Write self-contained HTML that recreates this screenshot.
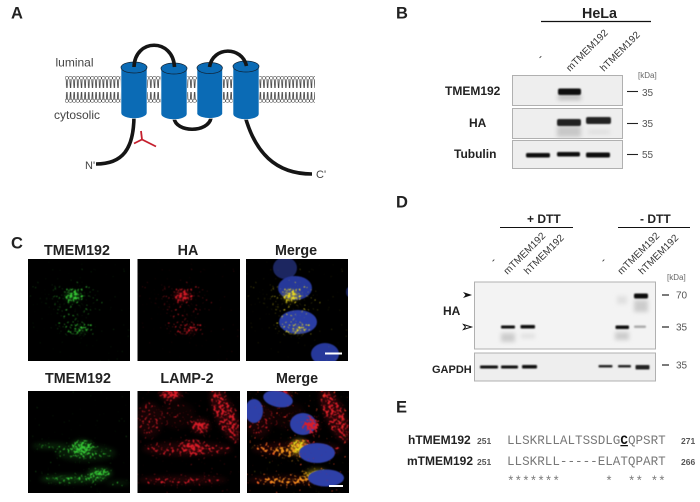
<!DOCTYPE html>
<html><head><meta charset="utf-8">
<style>
html,body{margin:0;padding:0;background:#fff;width:700px;height:502px;overflow:hidden}
svg{display:block}
text{font-family:"Liberation Sans",sans-serif}
.pl{font-weight:bold;font-size:16.5px;fill:#222}
.b12{font-weight:bold;font-size:12px;fill:#222}
.t{font-weight:bold;font-size:14.3px;fill:#222;text-anchor:middle}
.r{font-size:10px;fill:#333}
.a{font-size:12px;fill:#444}
.k{font-size:8px;fill:#666}
.n{font-size:10px;fill:#555}
.seq{font-family:"Liberation Mono",monospace;font-size:12.6px;fill:#777}
.num{font-size:8.5px;font-weight:bold;fill:#555}
.blot{fill:#eeeeee;stroke:#b0b0b0;stroke-width:1}
</style></head><body>
<svg xmlns="http://www.w3.org/2000/svg" width="700" height="502" viewBox="0 0 700 502">
<defs>
<pattern id="mem" x="65" y="75" width="3.65" height="30" patternUnits="userSpaceOnUse">
<path d="M1.2 5L1.7 13M2.5 5L2.1 13M1.2 25L1.7 17M2.5 25L2.1 17" stroke="#444" stroke-width=".8" fill="none"/>
<circle cx="1.82" cy="3" r="1.7" fill="#fff" stroke="#333" stroke-width=".5"/>
<circle cx="1.82" cy="25.8" r="1.7" fill="#fff" stroke="#333" stroke-width=".5"/>
</pattern>
<filter id="b1" x="-30%" y="-100%" width="160%" height="300%"><feGaussianBlur stdDeviation="0.9"/></filter>
<filter id="b3" x="-30%" y="-100%" width="160%" height="300%"><feGaussianBlur stdDeviation="2.2"/></filter>
<filter id="s" x="-5%" y="-5%" width="110%" height="110%"><feGaussianBlur stdDeviation="0.45"/></filter>
<clipPath id="cT"><rect x="0" y="259" width="102" height="102"/></clipPath>
<clipPath id="cB"><rect x="0" y="391" width="102" height="102"/></clipPath>

<filter id="fG" filterUnits="userSpaceOnUse" x="-10" y="240" width="130" height="270" color-interpolation-filters="sRGB">
<feTurbulence type="fractalNoise" baseFrequency="0.45" numOctaves="2" seed="7" result="n"/>
<feColorMatrix in="n" values="0 0 0 0 1 0 0 0 0 1 0 0 0 0 1 1 0 0 0 0" result="na"/>
<feGaussianBlur in="SourceAlpha" stdDeviation="3" result="sa"/>
<feComposite in="na" in2="sa" operator="arithmetic" k1="0" k2="1" k3="0.36" k4="0" result="sum"/>
<feColorMatrix in="sum" values="0 0 0 0 1 0 0 0 0 1 0 0 0 0 1 0 0 0 9 -7" result="th"/>
<feFlood flood-color="#35c935"/><feComposite in2="th" operator="in"/><feGaussianBlur stdDeviation="0.4"/>
</filter>
<filter id="fR" filterUnits="userSpaceOnUse" x="-10" y="240" width="130" height="270" color-interpolation-filters="sRGB">
<feTurbulence type="fractalNoise" baseFrequency="0.45" numOctaves="2" seed="7" result="n"/>
<feColorMatrix in="n" values="0 0 0 0 1 0 0 0 0 1 0 0 0 0 1 1 0 0 0 0" result="na"/>
<feGaussianBlur in="SourceAlpha" stdDeviation="3" result="sa"/>
<feComposite in="na" in2="sa" operator="arithmetic" k1="0" k2="1" k3="0.36" k4="0" result="sum"/>
<feColorMatrix in="sum" values="0 0 0 0 1 0 0 0 0 1 0 0 0 0 1 0 0 0 9 -7" result="th"/>
<feFlood flood-color="#d81a26"/><feComposite in2="th" operator="in"/><feGaussianBlur stdDeviation="0.4"/>
</filter>
<filter id="fY" filterUnits="userSpaceOnUse" x="-10" y="240" width="130" height="270" color-interpolation-filters="sRGB">
<feTurbulence type="fractalNoise" baseFrequency="0.45" numOctaves="2" seed="7" result="n"/>
<feColorMatrix in="n" values="0 0 0 0 1 0 0 0 0 1 0 0 0 0 1 1 0 0 0 0" result="na"/>
<feGaussianBlur in="SourceAlpha" stdDeviation="3" result="sa"/>
<feComposite in="na" in2="sa" operator="arithmetic" k1="0" k2="1" k3="0.36" k4="0" result="sum"/>
<feColorMatrix in="sum" values="0 0 0 0 1 0 0 0 0 1 0 0 0 0 1 0 0 0 9 -7" result="th"/>
<feFlood flood-color="#ecdc1c"/><feComposite in2="th" operator="in"/><feGaussianBlur stdDeviation="0.4"/>
</filter>
<filter id="fO" filterUnits="userSpaceOnUse" x="-10" y="240" width="130" height="270" color-interpolation-filters="sRGB">
<feTurbulence type="fractalNoise" baseFrequency="0.38" numOctaves="2" seed="7" result="n"/>
<feColorMatrix in="n" values="0 0 0 0 1 0 0 0 0 1 0 0 0 0 1 1 0 0 0 0" result="na"/>
<feGaussianBlur in="SourceAlpha" stdDeviation="3" result="sa"/>
<feComposite in="na" in2="sa" operator="arithmetic" k1="0" k2="1" k3="0.42" k4="0" result="sum"/>
<feColorMatrix in="sum" values="0 0 0 0 1 0 0 0 0 1 0 0 0 0 1 0 0 0 9 -6.7" result="th"/>
<feFlood flood-color="#e99a1a"/><feComposite in2="th" operator="in"/><feGaussianBlur stdDeviation="0.4"/>
</filter>
<filter id="fD" filterUnits="userSpaceOnUse" x="-10" y="240" width="130" height="270" color-interpolation-filters="sRGB">
<feTurbulence type="fractalNoise" baseFrequency="0.38" numOctaves="2" seed="7" result="n"/>
<feColorMatrix in="n" values="0 0 0 0 1 0 0 0 0 1 0 0 0 0 1 1 0 0 0 0" result="na"/>
<feGaussianBlur in="SourceAlpha" stdDeviation="3" result="sa"/>
<feComposite in="na" in2="sa" operator="arithmetic" k1="0" k2="1" k3="0.42" k4="0" result="sum"/>
<feColorMatrix in="sum" values="0 0 0 0 1 0 0 0 0 1 0 0 0 0 1 0 0 0 9 -6.7" result="th"/>
<feFlood flood-color="#dc1c28"/><feComposite in2="th" operator="in"/><feGaussianBlur stdDeviation="0.4"/>
</filter>
<filter id="sG" filterUnits="userSpaceOnUse" x="-10" y="240" width="130" height="270" color-interpolation-filters="sRGB">
<feGaussianBlur in="SourceAlpha" stdDeviation="2.5" result="a"/>
<feComponentTransfer in="a" result="a2"><feFuncA type="linear" slope=".35"/></feComponentTransfer>
<feFlood flood-color="#2ea82e"/><feComposite in2="a2" operator="in"/>
</filter>
<filter id="sR" filterUnits="userSpaceOnUse" x="-10" y="240" width="130" height="270" color-interpolation-filters="sRGB">
<feGaussianBlur in="SourceAlpha" stdDeviation="2.5" result="a"/>
<feComponentTransfer in="a" result="a2"><feFuncA type="linear" slope=".32"/></feComponentTransfer>
<feFlood flood-color="#c81a24"/><feComposite in2="a2" operator="in"/>
</filter>
<filter id="sY" filterUnits="userSpaceOnUse" x="-10" y="240" width="130" height="270" color-interpolation-filters="sRGB">
<feGaussianBlur in="SourceAlpha" stdDeviation="2.5" result="a"/>
<feComponentTransfer in="a" result="a2"><feFuncA type="linear" slope=".45"/></feComponentTransfer>
<feFlood flood-color="#d8c01c"/><feComposite in2="a2" operator="in"/>
</filter>

<g id="dTop" fill="#fff">
<ellipse cx="45" cy="296" rx="9" ry="6"/>
<ellipse cx="44" cy="300" rx="28" ry="18" fill-opacity=".3"/>
<ellipse cx="46" cy="327" rx="20" ry="9" fill-opacity=".45"/>
<ellipse cx="53" cy="330" rx="7" ry="4" fill-opacity=".8"/>
</g>
<g id="dTopS" fill="#fff">
<ellipse cx="45" cy="296" rx="8" ry="5"/>
<ellipse cx="53" cy="330" rx="6" ry="3" fill-opacity=".5"/>
</g>
<g id="dGreen" fill="#fff">
<ellipse cx="54" cy="448" rx="12" ry="8"/>
<ellipse cx="22" cy="446" rx="18" ry="3" fill-opacity=".6"/>
<ellipse cx="58" cy="453" rx="30" ry="8" fill-opacity=".45"/>
<ellipse cx="45" cy="479" rx="33" ry="4" fill-opacity=".75"/>
<ellipse cx="72" cy="473" rx="12" ry="5"/>
<ellipse cx="90" cy="483" rx="12" ry="2" fill-opacity=".5"/>
</g>
<g id="dRed" fill="#fff">
<ellipse cx="33" cy="394" rx="11" ry="6" fill-opacity=".9"/>
<ellipse cx="88" cy="415" rx="10" ry="30" transform="rotate(-25 88 415)" fill-opacity=".62"/>
<ellipse cx="63" cy="426" rx="9" ry="7" fill-opacity=".85"/>
<ellipse cx="12" cy="420" rx="13" ry="18" fill-opacity=".35"/>
<ellipse cx="40" cy="415" rx="18" ry="14" fill-opacity=".2"/>
<ellipse cx="50" cy="449" rx="45" ry="7" fill-opacity=".45"/>
<ellipse cx="55" cy="447" rx="11" ry="6" fill-opacity=".75"/>
<ellipse cx="45" cy="480" rx="45" ry="4" fill-opacity=".5"/>
</g>
<g id="dMerge" fill="#fff">
<ellipse cx="25" cy="449" rx="24" ry="4" fill-opacity=".55"/>
<ellipse cx="48" cy="452" rx="20" ry="8" fill-opacity=".5"/>
<ellipse cx="40" cy="480" rx="33" ry="4" fill-opacity=".7"/>
<ellipse cx="65" cy="474" rx="12" ry="4" fill-opacity=".75"/>
</g>
<g id="dYel" fill="#fff">
<ellipse cx="52" cy="447" rx="9" ry="8"/>
<ellipse cx="70" cy="474" rx="11" ry="5"/>
</g>
</defs>
<text class="pl" x="11" y="18.5">A</text>
<text class="pl" x="396" y="18.5">B</text>
<text class="pl" x="11" y="248.5">C</text>
<text class="pl" x="396" y="207.5">D</text>
<text class="pl" x="396" y="412.5">E</text>

<!-- A -->
<rect x="65" y="75" width="250" height="30" fill="url(#mem)"/>
<line x1="65" y1="89.7" x2="315" y2="89.7" stroke="#fff" stroke-width="1"/>
<text class="a" x="55.5" y="66.5">luminal</text>
<text class="a" x="54" y="119">cytosolic</text>
<text class="a" x="85" y="169" style="font-size:11px">N'</text>
<text class="a" x="316" y="178" style="font-size:11px">C'</text>
<g fill="none" stroke="#151515" stroke-width="3.6">
<path d="M134 115C134 150 122 164 96 164"/>
<path d="M245 116C255 152 275 174 312 174"/>
<path d="M174 118C176 133 208 133 211 118"/>
</g>
<g stroke="#fff" stroke-width=".6">
<path d="M121 67.5V113A13 5.5 0 0 0 147 113V67.5Z" fill="#0b6bb5"/>
<path d="M161 68.5V114A13 5.5 0 0 0 187 114V68.5Z" fill="#0b6bb5"/>
<path d="M197 68V114A13 5.5 0 0 0 222.5 114V68Z" fill="#0b6bb5"/>
<path d="M233 66.5V114A13 5.5 0 0 0 259 114V66.5Z" fill="#0b6bb5"/>
</g>
<g fill="#0b6bb5" stroke="#123" stroke-width=".7">
<ellipse cx="134" cy="67.5" rx="13" ry="5.5"/>
<ellipse cx="174" cy="68.5" rx="13" ry="5.5"/>
<ellipse cx="209.7" cy="68" rx="12.7" ry="5.5"/>
<ellipse cx="246" cy="66.5" rx="13" ry="5.5"/>
</g>
<g fill="none" stroke="#151515" stroke-width="3.6">
<path d="M134 67C135 38 173 38 174.5 67"/>
<path d="M209.5 67C213 46 242 46 246.5 66"/>
</g>
<path d="M134 143.5L142 139.5L156 146.5M142 139.5L141 131" fill="none" stroke="#c5202e" stroke-width="1.8"/>

<!-- B -->
<text x="582" y="18" style="font-weight:bold;font-size:14.3px;fill:#222">HeLa</text>
<line x1="541" y1="21.5" x2="651" y2="21.5" stroke="#111" stroke-width="1.3"/>
<text class="r" transform="translate(570,72) rotate(-45)">mTMEM192</text>
<text class="r" transform="translate(604,72) rotate(-45)">hTMEM192</text>
<text class="r" x="539" y="61" transform="rotate(-45 539 58)">-</text>
<text class="k" x="638" y="78">[kDa]</text>
<rect class="blot" x="512.5" y="75.5" width="110" height="30"/>
<rect class="blot" x="512.5" y="108.5" width="110" height="30"/>
<rect class="blot" x="512.5" y="140.5" width="110" height="28"/>
<text class="b12" x="445" y="95">TMEM192</text>
<text class="b12" x="469" y="127">HA</text>
<text class="b12" x="454" y="158">Tubulin</text>
<g fill="#bbb" filter="url(#b3)">
<rect x="558" y="95" width="23" height="5"/>
<rect x="557" y="126" width="24" height="11" fill="#c8c8c8"/>
<rect x="588" y="130" width="22" height="4" fill="#ddd"/>
</g>
<g fill="#111" filter="url(#b1)">
<rect x="558" y="88.5" width="23" height="6.5" rx="2"/>
<rect x="557" y="119" width="24" height="7" rx="2" fill="#222"/>
<rect x="586" y="117" width="25" height="7" rx="2" fill="#222"/>
<rect x="526" y="153" width="24" height="4.5" rx="1.5"/>
<rect x="557" y="152" width="23" height="4.5" rx="1.5"/>
<rect x="586" y="152.5" width="24" height="5" rx="1.5"/>
</g>
<g stroke="#222" stroke-width="1.1">
<line x1="627" y1="91.5" x2="638" y2="91.5"/>
<line x1="627" y1="123.5" x2="638" y2="123.5"/>
<line x1="627" y1="154.5" x2="638" y2="154.5"/>
</g>
<text class="n" x="642" y="96">35</text>
<text class="n" x="642" y="127">35</text>
<text class="n" x="642" y="158">55</text>

<!-- D -->
<text class="b12" x="527" y="223">+ DTT</text>
<text class="b12" x="640" y="223">- DTT</text>
<line x1="500" y1="227.5" x2="573" y2="227.5" stroke="#111" stroke-width="1.1"/>
<line x1="618" y1="227.5" x2="690" y2="227.5" stroke="#111" stroke-width="1.1"/>
<text class="r" transform="translate(507.5,275) rotate(-45)">mTMEM192</text>
<text class="r" transform="translate(528,275) rotate(-45)">hTMEM192</text>
<text class="r" transform="translate(621.5,275) rotate(-45)">mTMEM192</text>
<text class="r" transform="translate(642.5,275) rotate(-45)">hTMEM192</text>
<text class="r" x="491" y="264" transform="rotate(-45 492 260)">-</text>
<text class="r" x="601" y="264" transform="rotate(-45 602 260)">-</text>
<text class="k" x="667" y="280">[kDa]</text>
<rect class="blot" x="474.5" y="282" width="181" height="67" style="fill:#f3f3f3"/>
<rect class="blot" x="474.5" y="353" width="181" height="28"/>
<text class="b12" x="443" y="315">HA</text>
<text class="b12" x="432" y="373" style="font-size:11px">GAPDH</text>
<path d="M463 292L472 295L463 298L465.5 295Z" fill="#111"/>
<path d="M463.5 324.5L471.5 327L463.5 329.5L465.5 327Z" fill="#fff" stroke="#111" stroke-width="1"/>
<g filter="url(#b3)" fill="#ccc">
<rect x="501" y="333" width="14" height="9"/>
<rect x="521" y="334" width="14" height="4" fill="#ddd"/>
<rect x="615" y="332" width="14" height="8"/>
<rect x="634" y="300" width="14" height="12"/>
<rect x="617" y="296" width="10" height="8" fill="#e0e0e0"/>
</g>
<g fill="#111" filter="url(#b1)">
<rect x="501" y="325.5" width="14" height="3" rx="1"/>
<rect x="520.5" y="325" width="14.5" height="3.5" rx="1"/>
<rect x="615.5" y="325.5" width="13.5" height="3.5" rx="1"/>
<rect x="634" y="325.5" width="12" height="2.5" rx="1" fill="#aaa"/>
<rect x="634" y="293.5" width="14" height="5" rx="1.5"/>
<rect x="480" y="365.5" width="18" height="3" rx="1"/>
<rect x="501" y="365.5" width="17" height="3" rx="1"/>
<rect x="522" y="365" width="15" height="3.5" rx="1"/>
<rect x="598.5" y="365" width="14" height="2.5" rx="1" fill="#222"/>
<rect x="618" y="365" width="13" height="2.5" rx="1" fill="#222"/>
<rect x="635.5" y="365" width="14" height="4.5" rx="1" fill="#222"/>
</g>
<g stroke="#222" stroke-width="1.2">
<line x1="662" y1="295" x2="669" y2="295"/>
<line x1="662" y1="327" x2="669" y2="327"/>
<line x1="662" y1="365" x2="669" y2="365"/>
</g>
<text class="n" x="676" y="298.5">70</text>
<text class="n" x="676" y="330.5">35</text>
<text class="n" x="676" y="368.5">35</text>

<!-- E -->
<text class="b12" x="408" y="444">hTMEM192</text>
<text class="b12" x="407" y="465">mTMEM192</text>
<text class="num" x="477" y="444">251</text>
<text class="num" x="477" y="465">251</text>
<text class="num" x="681" y="444">271</text>
<text class="num" x="681" y="465">266</text>
<text class="seq" x="507" y="444">LLSKRLLALTSSDLG<tspan style="font-weight:bold;fill:#111;text-decoration:underline">C</tspan>QPSRT</text>
<text class="seq" x="507" y="465">LLSKRLL-----ELATQPART</text>
<text class="seq" x="507" y="485" xml:space="preserve">*******      *  ** **</text>

<!-- C -->
<text class="t" x="77" y="255">TMEM192</text>
<text class="t" x="188" y="255">HA</text>
<text class="t" x="296" y="255">Merge</text>
<text class="t" x="78" y="383">TMEM192</text>
<text class="t" x="187" y="383">LAMP-2</text>
<text class="t" x="297" y="383">Merge</text>
<rect x="28" y="259" width="102" height="102" fill="#000"/>
<rect x="137.5" y="259" width="102.5" height="102" fill="#000"/>
<rect x="246" y="259" width="102" height="102" fill="#000"/>
<rect x="28" y="391" width="102" height="102" fill="#000"/>
<rect x="137.5" y="391" width="102.5" height="102" fill="#000"/>
<rect x="247" y="391" width="102" height="102" fill="#000"/>

<g transform="translate(246,0)" clip-path="url(#cT)">
<g filter="url(#s)">
<ellipse cx="39" cy="268" rx="12" ry="11" fill="#1c2560"/>
<ellipse cx="49" cy="288" rx="17" ry="12" fill="#28389a"/>
<ellipse cx="52" cy="322" rx="19" ry="12" fill="#2b3ca5"/>
<ellipse cx="79" cy="354" rx="14" ry="11" fill="#28389a"/>
<ellipse cx="103" cy="292" rx="3" ry="5" fill="#1c2560"/>
</g>
<use href="#dTopS" filter="url(#sY)"/>
<use href="#dTop" filter="url(#fY)"/>
</g>
<g transform="translate(28,0)" clip-path="url(#cT)"><use href="#dTopS" filter="url(#sG)"/><use href="#dTop" filter="url(#fG)"/></g>
<g transform="translate(137.5,0)" clip-path="url(#cT)"><use href="#dTopS" filter="url(#sR)"/><use href="#dTop" filter="url(#fR)"/></g>
<g transform="translate(28,0)" clip-path="url(#cB)"><use href="#dGreen" filter="url(#sG)"/><use href="#dGreen" filter="url(#fG)"/></g>
<g transform="translate(137.5,0)" clip-path="url(#cB)"><use href="#dRed" filter="url(#sR)"/><use href="#dRed" filter="url(#fD)"/></g>
<g transform="translate(247,0)" clip-path="url(#cB)">
<use href="#dRed" filter="url(#sR)"/>
<use href="#dRed" filter="url(#fD)"/>
<use href="#dMerge" filter="url(#fO)"/>
<use href="#dYel" filter="url(#sY)"/>
<use href="#dYel" filter="url(#fY)"/>
<g filter="url(#s)">
<ellipse cx="7" cy="411" rx="9" ry="12" fill="#2f3fa8"/>
<ellipse cx="31" cy="399" rx="15" ry="8" fill="#2f3fa8" transform="rotate(12 31 399)"/>
<ellipse cx="56" cy="424" rx="13" ry="11" fill="#2f3fa8"/>
<ellipse cx="70" cy="453" rx="18" ry="10" fill="#2f3fa8"/>
<ellipse cx="79" cy="478" rx="18" ry="8.5" fill="#2f3fa8"/>
</g>
<ellipse cx="64" cy="425" rx="8" ry="8" fill="#fff" filter="url(#fD)"/>
</g>
<rect x="325" y="352.5" width="17" height="2" fill="#fff"/>
<rect x="329" y="485" width="14" height="2" fill="#fff"/>
</svg>
</body></html>
